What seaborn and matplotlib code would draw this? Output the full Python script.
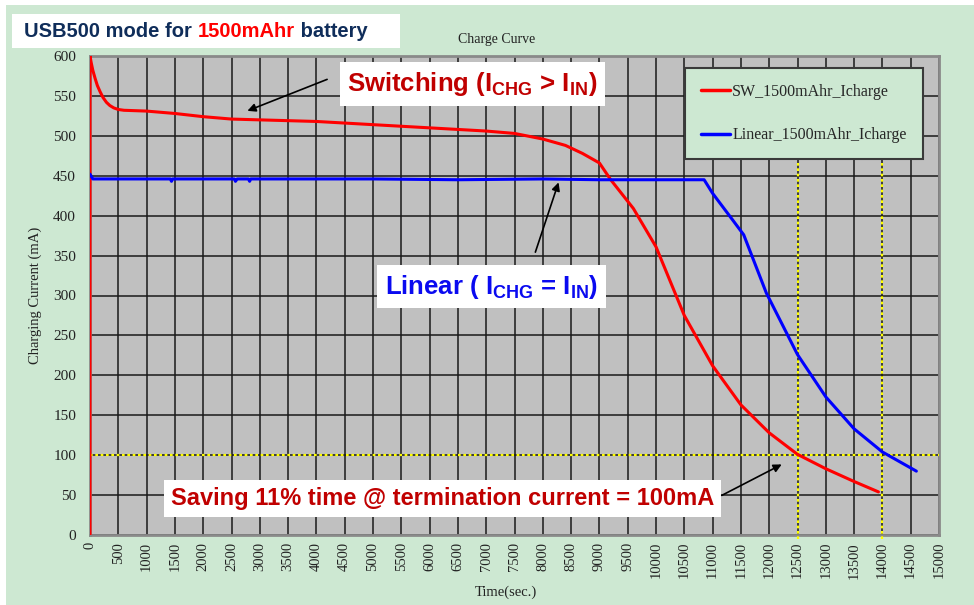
import matplotlib
matplotlib.use("Agg")
import matplotlib.pyplot as plt
from matplotlib.patches import Rectangle
import pandas as pd
import seaborn as sns

# Data
sw_time = [0, 0, 20, 50, 90, 130, 180, 230, 290, 350, 420, 500, 600, 1000,
           1500, 2000, 2500, 3000, 3500, 4000, 4500, 5000, 5500, 6000, 6500,
           7000, 7500, 8000, 8400, 8700, 9000, 9200, 9600, 10000, 10500,
           11000, 11500, 12000, 12500, 13000, 13500, 13930]
sw_current = [0, 600, 592, 582, 572, 563, 555, 548, 542, 538, 535, 533, 532,
              531, 528, 524, 521, 520, 519, 518, 516, 514, 512, 510, 508,
              506, 503, 496, 488, 478, 466, 445, 409, 361, 275,
              212, 163, 128, 101, 83, 67, 54]

lin_time = [0, 50, 500, 1420, 1440, 1460, 2550, 2570, 2600, 2800, 2820, 2840,
            5000, 6500, 8000, 9000, 10000, 10850, 11000, 11350, 11550,
            11950, 12500, 13000, 13500, 14000, 14600]
lin_current = [452, 446, 446, 446, 443, 446, 446, 443, 446, 446, 443, 446,
               446, 445, 446, 445, 445, 445, 428, 395, 376,
               303, 226, 173, 133, 104, 80]

series_names = ["SW_1500mAhr_Icharge", "Linear_1500mAhr_Icharge"]
series_colors = ["#ff0000", "#0000ff"]

x_ticks = list(range(0, 15001, 500))
y_ticks = list(range(0, 601, 50))

term_current = 100
term_times = [12500, 14000]

df = pd.concat([
    pd.DataFrame({"t": sw_time, "i": sw_current, "s": series_names[0]}),
    pd.DataFrame({"t": lin_time, "i": lin_current, "s": series_names[1]}),
], ignore_index=True)

sns.set_style("white")
plt.rcParams["font.family"] = ["Liberation Serif", "DejaVu Serif"]
plt.rcParams["mathtext.fontset"] = "custom"
plt.rcParams["mathtext.rm"] = "Liberation Sans"
plt.rcParams["mathtext.bf"] = "Liberation Sans:bold"

green = "#cde8d2"
fig = plt.figure(figsize=(9.74, 6.05), dpi=100, facecolor="white")
fig.patches.append(Rectangle((6 / 974, 0), 1, 1 - 5 / 605,
                             transform=fig.transFigure, fc=green, ec="none",
                             zorder=-10))

ax = fig.add_axes([90 / 974, 1 - 535 / 605, 849 / 974, 479 / 605])
ax.set_facecolor("#c0c0c0")

sns.lineplot(data=df, x="t", y="i", hue="s", palette=dict(zip(series_names, series_colors)),
             estimator=None, sort=False, lw=2.2, ax=ax, zorder=5)

ax.set_xlim(0, 15000)
ax.set_ylim(0, 600)
ax.set_xticks(x_ticks)
ax.set_yticks(y_ticks)
ax.set_xticklabels([str(v) for v in x_ticks], rotation=90, fontsize=10.5, color="#222222")
ax.set_yticklabels([str(v) for v in y_ticks], fontsize=11, color="#222222")
ax.tick_params(axis="y", length=0, pad=10)
ax.tick_params(axis="x", length=0, pad=5)
ax.grid(True, color="#1a1a1a", lw=1.1)
ax.set_axisbelow(True)
for sp in ax.spines.values():
    sp.set_visible(True)
    sp.set_color("#8a8a8a")
    sp.set_linewidth(2)

ax.set_xlabel("Time(sec.)", fontsize=10.5, color="#222222")
ax.xaxis.set_label_coords(0.49, -0.105)
ax.set_ylabel("Charging Current (mA)", fontsize=10.5, color="#222222")
ax.yaxis.set_label_coords(-0.056, 0.5)

# termination markers
ax.axhline(term_current, color="#ffff00", ls=(0, (1.2, 1.2)), lw=1.6, zorder=4)
ax.vlines(term_times, -5, 466, color="#ffff00", ls=(0, (1.2, 1.2)), lw=1.6,
          zorder=4, clip_on=False)

# legend
leg = ax.legend(loc="upper left", bbox_to_anchor=(0.701, 0.975), fontsize=11.5,
                frameon=True, fancybox=False, facecolor=green, edgecolor="#3a3a3a",
                framealpha=1, handlelength=1.8, handletextpad=0.15,
                labelspacing=1.7, borderpad=1.0, borderaxespad=0)
leg.get_frame().set_linewidth(1.5)
leg.set_zorder(20)
for line in leg.get_lines():
    line.set_linewidth(2.5)

fig.text(0.51, 1 - 40 / 605, "Charge Curve", ha="center", va="center",
         fontsize=10, color="#222222")

# header box
fig.patches.append(Rectangle((12 / 974, 1 - 48 / 605), 388 / 974, 34 / 605,
                             transform=fig.transFigure, fc="white", ec="none",
                             zorder=1))
head_kw = dict(fontsize=14.5, fontweight="bold", family="Liberation Sans",
               va="baseline", ha="left", zorder=2)
t1 = fig.text(24 / 974, 1 - 37 / 605, "USB500 mode for ", color="#0f2d5a", **head_kw)
t2 = fig.text(0, 0, "1500mAhr", color="#ff0000", **head_kw)
t3 = fig.text(0, 0, " battery", color="#0f2d5a", **head_kw)
fig.canvas.draw()
r = fig.canvas.get_renderer()
inv = fig.transFigure.inverted()
base_y = fig.transFigure.transform(t1.get_position())[1]
bb1 = t1.get_window_extent(r)
t2.set_position(inv.transform((bb1.x1, base_y)))
bb2 = t2.get_window_extent(r)
t3.set_position(inv.transform((bb2.x1, base_y)))

# annotations
box = dict(boxstyle="square,pad=0.3", fc="white", ec="none")
arrow = dict(arrowstyle="-|>", color="black", lw=1.2, mutation_scale=12)
ax.text(6760, 565, r"Switching (I$_{\mathbf{CHG}}$ > I$_{\mathbf{IN}}$)",
        ha="center", va="center", fontsize=18.5, fontweight="bold", color="#c00000",
        family="Liberation Sans", bbox=box, zorder=15)
ax.annotate("", xy=(2735, 530), xytext=(4235, 572), arrowprops=arrow, zorder=15)

ax.text(7094, 311, r"Linear ( I$_{\mathbf{CHG}}$ = I$_{\mathbf{IN}}$)",
        ha="center", va="center", fontsize=18.5, fontweight="bold", color="#0a0af0",
        family="Liberation Sans", bbox=box, zorder=15)
ax.annotate("", xy=(8294, 445), xytext=(7853, 351), arrowprops=arrow, zorder=15)

ax.text(6230, 46, "Saving 11% time @ termination current = 100mA",
        ha="center", va="center", fontsize=17, fontweight="bold", color="#c00000",
        family="Liberation Sans", bbox=box, zorder=15)
ax.annotate("", xy=(12265, 90), xytext=(11118, 48), arrowprops=arrow, zorder=15)

fig.savefig("out.png", dpi=100, facecolor=fig.get_facecolor())
